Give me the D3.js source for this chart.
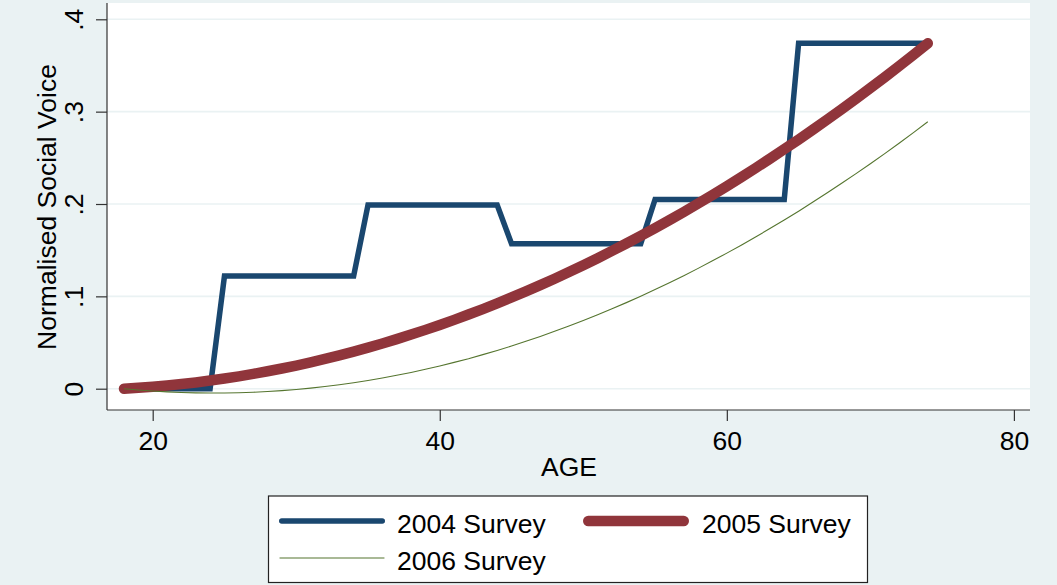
<!DOCTYPE html>
<html>
<head>
<meta charset="utf-8">
<script src="https://cdn.jsdelivr.net/npm/d3@7"></script>
<style>
  html, body { margin: 0; padding: 0; background: #eaf2f3; }
  svg { display: block; font-family: "Liberation Sans", Arial, sans-serif; }
</style>
</head>
<body>
<svg id="chart" width="1057" height="585"></svg>
<script>
// Ages covered by the surveys
const ages = d3.range(18, 75);

// 2004 Survey: stepwise profile by age band
const survey2004 = [
  0, 0, 0, 0, 0, 0, 0,
  0.122, 0.122, 0.122, 0.122, 0.122, 0.122, 0.122, 0.122, 0.122, 0.122,
  0.199, 0.199, 0.199, 0.199, 0.199, 0.199, 0.199, 0.199, 0.199, 0.199,
  0.157, 0.157, 0.157, 0.157, 0.157, 0.157, 0.157, 0.157, 0.157, 0.157,
  0.205, 0.205, 0.205, 0.205, 0.205, 0.205, 0.205, 0.205, 0.205, 0.205,
  0.374, 0.374, 0.374, 0.374, 0.374, 0.374, 0.374, 0.374, 0.374, 0.374
];

// 2005 Survey: smooth rising profile
const survey2005 = [
  0.0000, 0.0010, 0.0021, 0.0035, 0.0050, 0.0068, 0.0088, 0.0110, 0.0134, 0.0160,
  0.0189, 0.0219, 0.0251, 0.0286, 0.0322, 0.0361, 0.0402, 0.0445, 0.0490, 0.0537,
  0.0586, 0.0637, 0.0690, 0.0745, 0.0803, 0.0862, 0.0924, 0.0988, 0.1053, 0.1121,
  0.1191, 0.1263, 0.1337, 0.1413, 0.1492, 0.1572, 0.1654, 0.1739, 0.1825, 0.1914,
  0.2005, 0.2098, 0.2193, 0.2290, 0.2389, 0.2490, 0.2593, 0.2698, 0.2806, 0.2915,
  0.3026, 0.3140, 0.3256, 0.3373, 0.3493, 0.3615, 0.3740
];

// 2006 Survey: slight dip then rising profile
const survey2006 = [
  0.0000, -0.0014, -0.0025, -0.0034, -0.0041, -0.0045, -0.0047, -0.0047, -0.0044, -0.0039,
  -0.0031, -0.0021, -0.0009, 0.0006, 0.0023, 0.0043, 0.0065, 0.0089, 0.0116, 0.0145,
  0.0176, 0.0210, 0.0246, 0.0285, 0.0325, 0.0369, 0.0414, 0.0462, 0.0513, 0.0566,
  0.0621, 0.0678, 0.0738, 0.0801, 0.0865, 0.0932, 0.1002, 0.1073, 0.1148, 0.1224,
  0.1303, 0.1385, 0.1468, 0.1554, 0.1643, 0.1734, 0.1827, 0.1922, 0.2021, 0.2121,
  0.2224, 0.2329, 0.2436, 0.2546, 0.2658, 0.2773, 0.2890
];

const xTicks = [20, 40, 60, 80];
const yTicks = [0, 0.1, 0.2, 0.3, 0.4];
const yTickLabels = ["0", ".1", ".2", ".3", ".4"];
const seriesNames = ["2004 Survey", "2005 Survey", "2006 Survey"];

const series = [
  { name: seriesNames[0], values: survey2004, color: "#1a476f", width: 5.5 },
  { name: seriesNames[1], values: survey2005, color: "#90353b", width: 10.5 },
  { name: seriesNames[2], values: survey2006, color: "#55752f", width: 1.1 }
];

const svg = d3.select("#chart");
const plot = { left: 107, right: 1030, top: 3, bottom: 410 };

svg.append("rect").attr("width", 1057).attr("height", 585).attr("fill", "#eaf2f3");
svg.append("rect")
  .attr("x", plot.left).attr("y", plot.top)
  .attr("width", plot.right - plot.left).attr("height", plot.bottom - plot.top)
  .attr("fill", "#ffffff");

const x = d3.scaleLinear().domain([20, 80]).range([152.7, 1013.9]);
const y = d3.scaleLinear().domain([0, 0.4]).range([388.7, 19.3]);

// Horizontal grid lines
svg.append("g").selectAll("line").data(yTicks).join("line")
  .attr("x1", plot.left).attr("x2", plot.right)
  .attr("y1", d => y(d)).attr("y2", d => y(d))
  .attr("stroke", "#eaf2f3").attr("stroke-width", 1.6);

// Y axis
const yAxis = d3.axisLeft(y).tickValues(yTicks)
  .tickFormat((d, i) => yTickLabels[i]).tickSize(11).tickSizeOuter(0);
const gy = svg.append("g").attr("transform", `translate(${plot.left},0)`).call(yAxis);
gy.select(".domain").remove();
gy.selectAll(".tick line").attr("stroke", "#333").attr("stroke-width", 1.2);
gy.selectAll(".tick text")
  .attr("x", null).attr("dy", null)
  .attr("transform", "translate(-24,0) rotate(-90)")
  .attr("text-anchor", "middle")
  .attr("font-size", 26.5).attr("fill", "#000")
  .attr("font-family", "Liberation Sans, Arial, sans-serif");
svg.append("line")
  .attr("x1", plot.left).attr("x2", plot.left)
  .attr("y1", plot.top).attr("y2", plot.bottom)
  .attr("stroke", "#333").attr("stroke-width", 1.2);

// X axis
const xAxis = d3.axisBottom(x).tickValues(xTicks).tickSize(11).tickSizeOuter(0);
const gx = svg.append("g").attr("transform", `translate(0,${plot.bottom})`).call(xAxis);
gx.select(".domain").remove();
gx.selectAll(".tick line").attr("stroke", "#333").attr("stroke-width", 1.2);
gx.selectAll(".tick text")
  .attr("y", 40).attr("dy", null)
  .attr("font-size", 26.5).attr("fill", "#000")
  .attr("font-family", "Liberation Sans, Arial, sans-serif");
svg.append("line")
  .attr("x1", plot.left).attr("x2", plot.right)
  .attr("y1", plot.bottom).attr("y2", plot.bottom)
  .attr("stroke", "#333").attr("stroke-width", 1.2);

// Axis titles
svg.append("text")
  .attr("transform", "translate(56,207) rotate(-90)")
  .attr("text-anchor", "middle").attr("font-size", 26.5)
  .text("Normalised Social Voice");
svg.append("text")
  .attr("x", 569).attr("y", 476)
  .attr("text-anchor", "middle").attr("font-size", 26.5)
  .text("AGE");

// Series lines
const line = d3.line().x((d, i) => x(ages[i])).y(d => y(d));
svg.append("g").selectAll("path").data(series).join("path")
  .attr("d", s => line(s.values))
  .attr("fill", "none")
  .attr("stroke", s => s.color)
  .attr("stroke-width", s => s.width)
  .attr("stroke-linejoin", s => s.width > 8 ? "round" : "miter")
  .attr("stroke-linecap", s => s.width > 8 ? "round" : "butt");

// Legend
const legend = svg.append("g");
legend.append("rect")
  .attr("x", 268.5).attr("y", 496).attr("width", 599).attr("height", 86.5)
  .attr("fill", "#ffffff").attr("stroke", "#222").attr("stroke-width", 1.2);
const legendPos = [
  { x: 279, y: 521 },
  { x: 583, y: 521 },
  { x: 279, y: 558 }
];
series.forEach((s, i) => {
  const p = legendPos[i];
  legend.append("line")
    .attr("x1", p.x + s.width / 2).attr("x2", p.x + 106 - s.width / 2)
    .attr("y1", p.y).attr("y2", p.y)
    .attr("stroke", s.color).attr("stroke-width", s.width)
    .attr("stroke-linecap", s.width > 2 ? "round" : "butt");
  legend.append("text")
    .attr("x", p.x + 118 + (i === 1 ? 1 : 0)).attr("y", p.y + 11.5)
    .attr("font-size", 26.5)
    .text(s.name);
});
</script>
</body>
</html>
